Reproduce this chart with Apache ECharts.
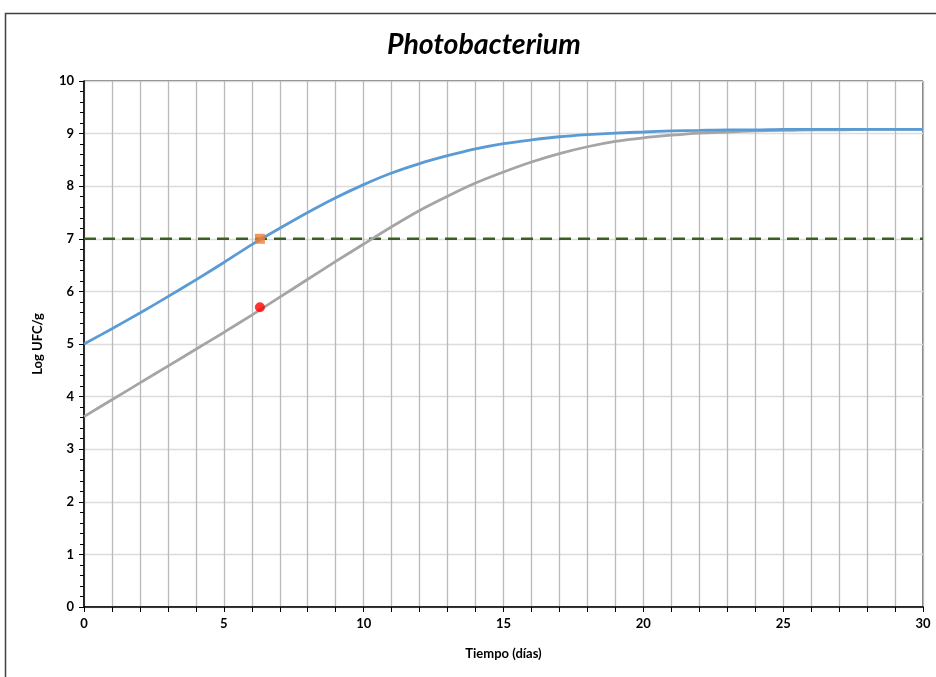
<!DOCTYPE html>
<html>
<head>
<meta charset="utf-8">
<script src="https://cdn.jsdelivr.net/npm/echarts@6/dist/echarts.min.js"></script>
<style>
html,body{margin:0;padding:0;background:#fff;}
#chart{width:936px;height:677px;}
</style>
</head>
<body>
<div id="chart"></div>
<script>
const days = [0,1,2,3,4,5,6,7,8,9,10,11,12,13,14,15,16,17,18,19,20,21,22,23,24,25,26,27,28,29,30];
const blueValues = [5.00,5.29,5.59,5.90,6.22,6.55,6.89,7.20,7.50,7.78,8.03,8.25,8.43,8.58,8.71,8.81,8.88,8.94,8.98,9.01,9.03,9.05,9.06,9.07,9.07,9.08,9.08,9.08,9.08,9.08,9.08];
const grayValues = [3.62,3.94,4.26,4.58,4.90,5.22,5.55,5.89,6.23,6.57,6.90,7.23,7.54,7.81,8.06,8.27,8.46,8.62,8.75,8.85,8.92,8.97,9.01,9.03,9.05,9.06,9.07,9.07,9.08,9.08,9.08];
const thresholdX = [0,30];
const thresholdY = [7,7];
const squarePoint = [6.29,7.0];
const circlePoint = [6.29,5.7];
const xTickLabels = [0,5,10,15,20,25,30];

const chart = echarts.init(document.getElementById('chart'));
const font = 'Lato, "Open Sans", sans-serif';
chart.setOption({
  animation:false,
  backgroundColor:'#fff',
  title:{
    text:'Photobacterium', left:382, top:25,
    textStyle:{fontFamily:font, fontSize:28.5, fontWeight:'bold', fontStyle:'italic', color:'#000'}
  },
  graphic:[{type:'rect', shape:{x:5.5,y:13.5,width:1000,height:1000}, style:{fill:'none', stroke:'#404040', lineWidth:1.5}, silent:true}],
  grid:{left:84, right:13, top:81, bottom:70, show:true, borderColor:'#000', borderWidth:1},
  xAxis:{
    type:'value', min:0, max:30, interval:1,
    name:'Tiempo (días)', nameLocation:'middle', nameGap:40,
    nameTextStyle:{fontFamily:font, fontSize:13, fontWeight:'bold', color:'#000'},
    axisLine:{lineStyle:{color:'#000', width:1.5}},
    axisTick:{show:true, length:5, lineStyle:{color:'#000'}},
    axisLabel:{fontFamily:font, fontSize:13, fontWeight:'bold', color:'#000', margin:10,
      formatter:v=> xTickLabels.indexOf(v)>=0 ? String(v) : ''},
    splitLine:{show:true, lineStyle:{color:'#bababa', width:1.3}}
  },
  yAxis:{
    type:'value', min:0, max:10, interval:1,
    name:'Log UFC/g', nameLocation:'middle', nameGap:40,
    nameTextStyle:{fontFamily:font, fontSize:13, fontWeight:'bold', color:'#000'},
    axisLine:{show:true, lineStyle:{color:'#000', width:1.5}},
    axisTick:{show:true, length:5, lineStyle:{color:'#000'}},
    minorTick:{show:true, splitNumber:5, length:4, lineStyle:{color:'#000'}},
    axisLabel:{fontFamily:font, fontSize:13, fontWeight:'bold', color:'#000', margin:10},
    splitLine:{show:true, lineStyle:{color:'#dcdcdc', width:1.3}}
  },
  series:[
    {type:'line', data:thresholdX.map((x,i)=>[x,thresholdY[i]]), symbol:'none',
     lineStyle:{color:'#3d5e23', width:2.5, type:[12,7]}, z:3},
    {type:'line', data:days.map((d,i)=>[d,grayValues[i]]), symbol:'none', smooth:0.3,
     lineStyle:{color:'#a5a5a5', width:2.8}, z:4},
    {type:'line', data:days.map((d,i)=>[d,blueValues[i]]), symbol:'none', smooth:0.3,
     lineStyle:{color:'#5b9bd5', width:2.8}, z:5},
    {type:'scatter', data:[squarePoint], symbol:'rect', symbolSize:10,
     itemStyle:{color:'#ed7d31'}, z:6},
    {type:'scatter', data:[circlePoint], symbol:'circle', symbolSize:10,
     itemStyle:{color:'#ff0000'}, z:6}
  ]
});
</script>
</body>
</html>
